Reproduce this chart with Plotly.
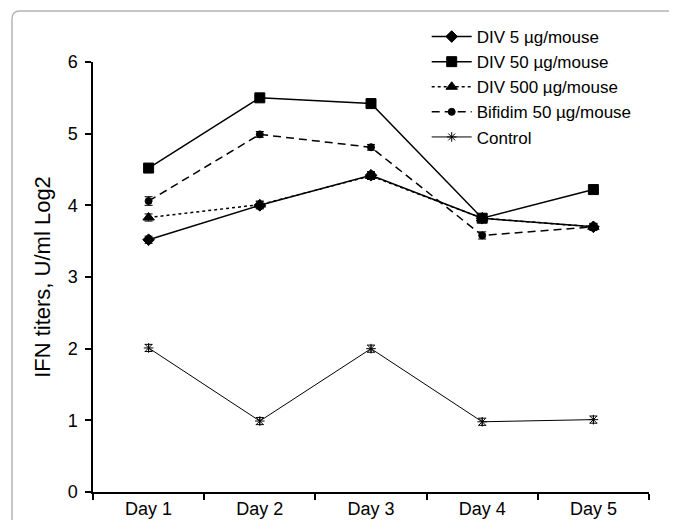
import plotly.graph_objects as go

days = ["Day 1", "Day 2", "Day 3", "Day 4", "Day 5"]
div5 = [3.52, 4.00, 4.42, 3.82, 3.70]
div50 = [4.52, 5.50, 5.42, 3.82, 4.22]
div500 = [3.83, 4.01, 4.41, 3.82, 3.70]
bifidim = [4.06, 4.99, 4.81, 3.58, 3.70]
control = [2.01, 0.99, 2.00, 0.98, 1.01]
err_div5 = [0.05, 0.05, 0.05, 0.04, 0.04]
err_div50 = [0.03, 0.03, 0.03, 0.03, 0.03]
err_div500 = [0.05, 0.05, 0.05, 0.04, 0.05]
err_bif = [0.06, 0.04, 0.04, 0.05, 0.04]
err_ctrl = [0.05, 0.05, 0.05, 0.05, 0.05]
y_ticks = [0, 1, 2, 3, 4, 5, 6]

FONT = "Liberation Sans, Arial, sans-serif"
BLACK = "#000000"

series = [
    ("DIV 5 µg/mouse", div5, err_div5, "diamond", 9, "solid", 1.5),
    ("DIV 50 µg/mouse", div50, err_div50, "square", 10, "solid", 1.5),
    ("DIV 500 µg/mouse", div500, err_div500, "triangle-up", 10, "3px,3px", 1.5),
    ("Bifidim 50 µg/mouse", bifidim, err_bif, "circle", 7, "8px,5px", 1.5),
    ("Control", control, err_ctrl, "asterisk-open", 8, "solid", 1),
]

fig = go.Figure()
for name, vals, errs, sym, size, dash, lw in series:
    fig.add_trace(go.Scatter(
        x=days, y=vals, name=name, mode="lines+markers",
        line=dict(color=BLACK, width=lw, dash=dash),
        marker=dict(symbol=sym, size=size, color=BLACK,
                    line=dict(color=BLACK, width=1)),
        error_y=dict(type="data", array=errs, visible=True,
                     color=BLACK, thickness=1, width=4),
    ))

# page has an 8px body margin; figure sized to fit the 677x520 window
OFF = 8
W, H = 677 - OFF, 520 - OFF
L, R, T, B = 93.3 - OFF, 649.3 - OFF, 62.0 - OFF, 492.0 - OFF


def px(x):
    return (x - OFF - L) / (R - L)


def py(y):
    return (B - (y - OFF)) / (B - T)


# decorative rounded frame (given in window pixels)
path = (f"M {px(12.3)},{py(530)} L {px(12.3)},{py(19)} "
        f"Q {px(12.3)},{py(11)} {px(20)},{py(11)} L {px(690)},{py(11)}")
fig.add_shape(type="path", path=path, xref="paper", yref="paper",
              line=dict(color="#b4b4b4", width=1.5), layer="below")

fig.update_layout(
    width=W, height=H,
    margin=dict(l=L, r=W - R, t=T, b=H - B, autoexpand=False),
    paper_bgcolor="white", plot_bgcolor="white",
    font=dict(family=FONT, size=18, color=BLACK),
    showlegend=True,
    legend=dict(x=px(427), xref="paper", y=1 - (19 - OFF) / H,
                yref="container", xanchor="left", yanchor="top",
                bgcolor="rgba(0,0,0,0)", font=dict(size=17),
                itemwidth=40, tracegroupgap=0),
    xaxis=dict(type="category", range=[-0.5, 4.5], showline=True,
               linecolor=BLACK, linewidth=1.5, ticks="outside",
               tickson="boundaries", ticklen=6, tickcolor=BLACK,
               tickwidth=1.5, showgrid=False, zeroline=False,
               automargin=False, ticklabelstandoff=0),
    yaxis=dict(range=[0, 6], tickvals=y_ticks, showline=True,
               linecolor=BLACK, linewidth=1.5, ticks="outside", ticklen=6,
               tickcolor=BLACK, tickwidth=1.5, showgrid=False,
               zeroline=False, automargin=False, ticklabelstandoff=4,
               title=dict(text="IFN titers, U/ml Log2", standoff=11)),
)

fig.write_html("out.html")
